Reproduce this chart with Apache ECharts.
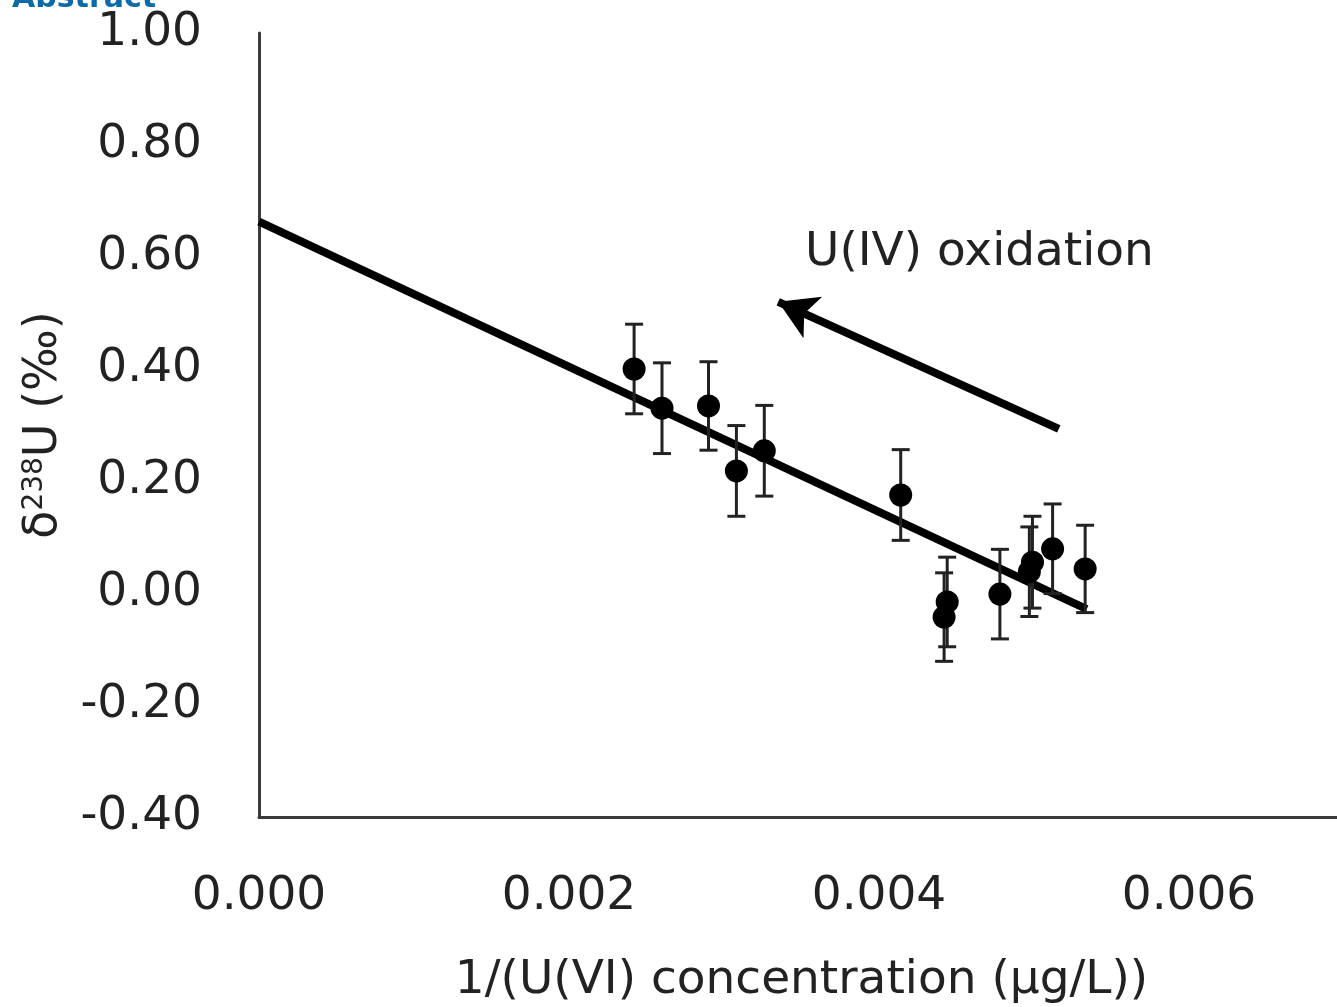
<!DOCTYPE html>
<html>
<head>
<meta charset="utf-8">
<script src="https://cdn.jsdelivr.net/npm/echarts@6/dist/echarts.min.js"></script>
<style>
  html, body { margin: 0; padding: 0; background: #fff; }
  #chart { width: 1337px; height: 1007px; }
</style>
</head>
<body>
<div id="chart"></div>
<script>
// measured points: 1/[U(VI)] vs d238U, with error (±)
const invConc = [0.00242, 0.00260, 0.00290, 0.00308, 0.00326, 0.00414, 0.00444, 0.00442, 0.00478, 0.00499, 0.00497, 0.00512, 0.00533];
const delta238 = [0.400, 0.330, 0.334, 0.218, 0.254, 0.175, -0.016, -0.043, -0.002, 0.055, 0.038, 0.079, 0.043];
const errBar = [0.080, 0.081, 0.079, 0.081, 0.081, 0.081, 0.080, 0.079, 0.080, 0.082, 0.080, 0.080, 0.078];
// regression line end points
const trendX = [0, 0.00534];
const trendY = [0.663, -0.029];
// arrow annotation (tail -> head)
const arrowFrom = [0.00516, 0.293];
const arrowTo = [0.00335, 0.520];
const yTicks = [-0.4, 1.0, 0.2];
const xTicks = [0, 0.007, 0.002];

const FONT = 'DejaVu Sans';
const TXT = '#222';

const chart = echarts.init(document.getElementById('chart'));

const points = invConc.map((x, i) => [x, delta238[i], errBar[i]]);

const option = {
  backgroundColor: '#fff',
  animation: false,
  grid: { left: 259, right: -7, top: 33, bottom: 190, containLabel: false, outerBoundsMode: 'none' },
  xAxis: {
    type: 'value',
    min: xTicks[0],
    max: xTicks[1],
    interval: xTicks[2],
    name: '1/(U(VI) concentration (µg/L))',
    nameLocation: 'middle',
    nameGap: 140,
    nameTextStyle: { fontFamily: FONT, fontSize: 47, color: TXT },
    axisLine: { show: true, onZero: false, lineStyle: { color: '#3a3a3a', width: 3 } },
    axisTick: { show: false },
    splitLine: { show: false },
    axisLabel: {
      showMaxLabel: false,
      margin: 56,
      fontFamily: FONT, fontSize: 47, color: TXT,
      formatter: v => v.toFixed(3)
    }
  },
  yAxis: {
    type: 'value',
    min: yTicks[0],
    max: yTicks[1],
    interval: yTicks[2],
    name: '{n|δ}{s|238}{n|U (‰)}',
    nameLocation: 'middle',
    nameGap: 192,
    nameRotate: 90,
    nameTextStyle: {
      rich: {
        n: { fontFamily: FONT, fontSize: 46, color: TXT },
        s: { fontFamily: FONT, fontSize: 28, color: TXT, verticalAlign: 'top', padding: [0, 0, 18, 0] }
      }
    },
    axisLine: { show: true, onZero: false, lineStyle: { color: '#3a3a3a', width: 3 } },
    axisTick: { show: false },
    splitLine: { show: false },
    axisLabel: {
      margin: 57,
      fontFamily: FONT, fontSize: 47, color: TXT,
      formatter: v => v.toFixed(2)
    }
  },
  graphic: [
    {
      type: 'text', left: 12, top: -16,
      style: { text: 'Abstract', font: 'bold 30px "DejaVu Sans"', fill: '#0d6aa8' }
    },
    {
      type: 'text', left: 805, top: 229,
      style: { text: 'U(IV) oxidation', font: '47px "DejaVu Sans"', fill: TXT }
    }
  ],
  series: [
    {
      name: 'trend',
      type: 'line',
      data: trendX.map((x, i) => [x, trendY[i]]),
      showSymbol: false,
      symbol: 'none',
      lineStyle: { color: '#000', width: 8 },
      z: 3,
      markLine: {
        silent: true,
        symbol: ['none', 'arrow'],
        symbolSize: [34, 38],
        lineStyle: { color: '#000', width: 8, type: 'solid' },
        label: { show: false },
        data: [[{ coord: arrowFrom }, { coord: arrowTo }]]
      }
    },
    {
      name: 'error',
      type: 'custom',
      data: points,
      z: 4,
      renderItem: function (params, api) {
        const x = api.value(0), y = api.value(1), e = api.value(2);
        const hi = api.coord([x, y + e]);
        const lo = api.coord([x, y - e]);
        const cap = 9;
        const st = { stroke: '#222', lineWidth: 3 };
        return {
          type: 'group',
          children: [
            { type: 'line', shape: { x1: hi[0], y1: hi[1], x2: lo[0], y2: lo[1] }, style: st },
            { type: 'line', shape: { x1: hi[0] - cap, y1: hi[1], x2: hi[0] + cap, y2: hi[1] }, style: st },
            { type: 'line', shape: { x1: lo[0] - cap, y1: lo[1], x2: lo[0] + cap, y2: lo[1] }, style: st }
          ]
        };
      }
    },
    {
      name: 'data',
      type: 'scatter',
      data: points,
      symbol: 'circle',
      symbolSize: 23,
      itemStyle: { color: '#000', opacity: 1 },
      z: 5
    }
  ]
};

chart.setOption(option);
</script>
</body>
</html>
